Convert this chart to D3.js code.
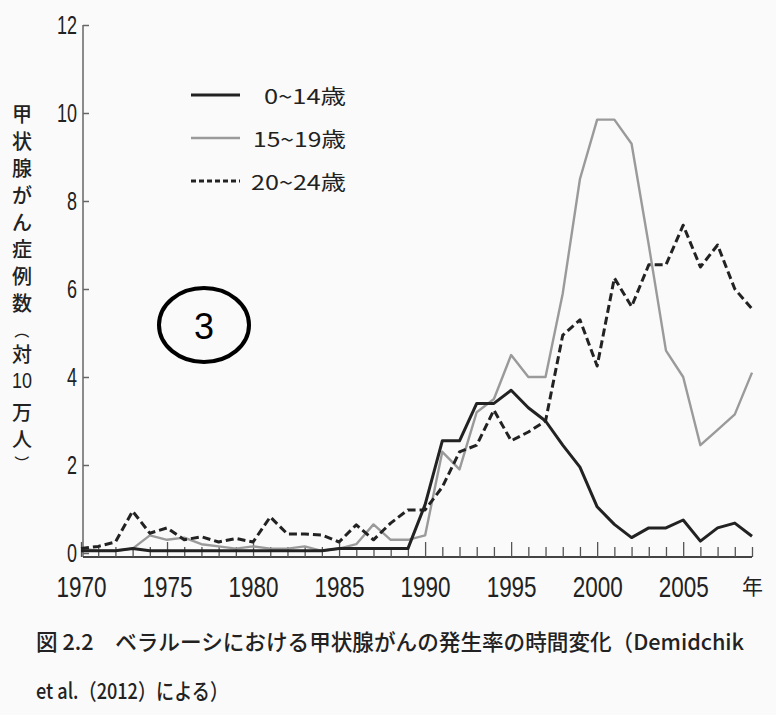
<!DOCTYPE html>
<html lang="ja">
<head>
<meta charset="utf-8">
<title>ベラルーシにおける甲状腺がんの発生率</title>
<script src="https://d3js.org/d3.v7.min.js"></script>
<style>
  body { margin: 0; background: #fafafa; }
  svg { display: block; }
  .num { font-family: "Liberation Sans", Arial, sans-serif; fill: #222; }
  .jp { font-family: "Noto Sans CJK JP", sans-serif; fill: #222; }
</style>
</head>
<body>
<div id="chart"></div>
<script>
// years on the x axis
var years = [1970, 1971, 1972, 1973, 1974, 1975, 1976, 1977, 1978, 1979,
             1980, 1981, 1982, 1983, 1984, 1985, 1986, 1987, 1988, 1989,
             1990, 1991, 1992, 1993, 1994, 1995, 1996, 1997, 1998, 1999,
             2000, 2001, 2002, 2003, 2004, 2005, 2006, 2007, 2008, 2009];

// cases per 100,000
var age0to14 = [0.05, 0.05, 0.05, 0.1, 0.05, 0.05, 0.05, 0.05, 0.05, 0.05,
                0.05, 0.05, 0.05, 0.05, 0.05, 0.1, 0.1, 0.1, 0.1, 0.1,
                1.1, 2.55, 2.55, 3.4, 3.4, 3.7, 3.3, 3.0, 2.45, 1.95,
                1.05, 0.65, 0.35, 0.57, 0.57, 0.75, 0.27, 0.57, 0.68, 0.38];
var age15to19 = [0.1, 0.05, 0.05, 0.1, 0.4, 0.3, 0.35, 0.2, 0.15, 0.1,
                 0.15, 0.1, 0.1, 0.15, 0.05, 0.1, 0.2, 0.65, 0.3, 0.3,
                 0.4, 2.3, 1.9, 3.2, 3.5, 4.5, 4.0, 4.0, 5.9, 8.5,
                 9.85, 9.85, 9.3, 7.0, 4.6, 4.0, 2.45, 2.8, 3.15, 4.1];
var age20to24 = [0.1, 0.15, 0.25, 0.95, 0.45, 0.57, 0.3, 0.37, 0.25, 0.33,
                 0.25, 0.82, 0.43, 0.43, 0.41, 0.25, 0.64, 0.3, 0.68, 0.98,
                 0.98, 1.5, 2.3, 2.45, 3.25, 2.55, 2.75, 3.0, 4.95, 5.3,
                 4.25, 6.25, 5.6, 6.55, 6.55, 7.45, 6.5, 7.0, 6.0, 5.55];

var seriesNames = ["0~14歳", "15~19歳", "20~24歳"];
var yTicks = [0, 2, 4, 6, 8, 10, 12];
var xLabelTicks = [1970, 1975, 1980, 1985, 1990, 1995, 2000, 2005, 2009];
var yTitle = ["甲", "状", "腺", "が", "ん", "症", "例", "数", "（", "対", "10", "万", "人", "）"];
var caption1 = "図 2.2　ベラルーシにおける甲状腺がんの発生率の時間変化（Demidchik";
var caption2 = "et al.（2012）による）";

var width = 776, height = 715;

var svg = d3.select("#chart").append("svg")
  .attr("width", width)
  .attr("height", height);

svg.append("rect").attr("width", width).attr("height", height).attr("fill", "#fafafa");

var x = d3.scaleLinear().domain([1970, 2009]).range([81, 752]);
var y = d3.scaleLinear().domain([0, 12]).range([553, 25]);
var baseY = y(0) + 4;

// y axis
svg.append("line")
  .attr("x1", 83).attr("x2", 83)
  .attr("y1", y(12)).attr("y2", baseY)
  .attr("stroke", "#666").attr("stroke-width", 1.5);

var yAxis = svg.append("g")
  .attr("transform", "translate(83,0)")
  .call(d3.axisLeft(y).tickValues(yTicks).tickSizeInner(-6).tickSizeOuter(0).tickPadding(6));
yAxis.select(".domain").remove();
yAxis.selectAll(".tick line").attr("stroke", "#666").attr("stroke-width", 1.5);
yAxis.selectAll(".tick text")
  .attr("class", "num")
  .style("font-size", "25px")
  .attr("textLength", function(d) { return String(d).length * 10; })
  .attr("lengthAdjust", "spacingAndGlyphs");

// x axis: baseline with a tick every year
svg.append("line")
  .attr("x1", 83).attr("x2", x(2009))
  .attr("y1", baseY).attr("y2", baseY)
  .attr("stroke", "#444").attr("stroke-width", 2);

var xTicks = svg.append("g")
  .attr("transform", "translate(0," + baseY + ")")
  .call(d3.axisTop(x).tickValues(years).tickSize(11).tickSizeOuter(0).tickFormat(""));
xTicks.select(".domain").remove();
xTicks.selectAll(".tick line")
  .attr("stroke", "#555").attr("stroke-width", 1.3)
  .attr("y2", function(d) { return d % 5 === 0 ? -15 : -10; });

var xLabels = svg.append("g")
  .attr("transform", "translate(0," + baseY + ")")
  .call(d3.axisBottom(x).tickValues(xLabelTicks).tickSize(0).tickPadding(19)
    .tickFormat(function(d) { return d === 2009 ? "年" : d; }));
xLabels.select(".domain").remove();
xLabels.selectAll(".tick text")
  .attr("class", function(d) { return d === 2009 ? "jp" : "num"; })
  .style("font-size", function(d) { return d === 2009 ? "21px" : "30px"; })
  .attr("dy", function(d) { return d === 2009 ? "0.85em" : "0.71em"; })
  .each(function(d) {
    if (d !== 2009) {
      d3.select(this).attr("textLength", 50).attr("lengthAdjust", "spacingAndGlyphs");
    }
  });

// vertical y-axis title, one glyph per row; brackets turned for vertical writing
var titleY = 113;
yTitle.forEach(function(ch) {
  var isParen = ch === "（" || ch === "）";
  var adv = ch === "10" ? 31 : isParen ? 24 : 27;
  var cy = titleY + (isParen ? (ch === "（" ? 2 : -2) : 0);
  var t = svg.append("text")
    .attr("class", ch === "10" ? "num" : "jp")
    .attr("text-anchor", "middle")
    .attr("dominant-baseline", "central")
    .style("font-size", ch === "10" ? "22px" : isParen ? "15px" : "20px")
    .style("font-weight", ch === "10" ? null : "500")
    .text(ch);
  if (isParen) {
    t.attr("transform", "translate(22," + cy + ") rotate(90)");
  } else {
    t.attr("x", 22).attr("y", cy);
  }
  if (ch === "10") t.attr("textLength", 20).attr("lengthAdjust", "spacingAndGlyphs");
  titleY += adv;
});

// lines
var line = d3.line()
  .x(function(d) { return x(d[0]); })
  .y(function(d) { return y(d[1]); });

var styles = [
  { data: age0to14, color: "#222", width: 3, dash: null },
  { data: age15to19, color: "#9a9a9a", width: 2.4, dash: null },
  { data: age20to24, color: "#222", width: 3, dash: "8,4" }
];

// draw grey first, then dashed, then solid black on top
[1, 2, 0].forEach(function(i) {
  var s = styles[i];
  svg.append("path")
    .datum(years.map(function(yr, k) { return [yr, s.data[k]]; }))
    .attr("d", line)
    .attr("fill", "none")
    .attr("stroke", s.color)
    .attr("stroke-width", s.width)
    .attr("stroke-linejoin", "round")
    .attr("stroke-dasharray", s.dash);
});

// legend
var legendWidths = [82, 93, 95];
var legend = svg.append("g");
styles.forEach(function(s, i) {
  var ly = 95 + i * 43;
  legend.append("line")
    .attr("x1", 191).attr("x2", 240)
    .attr("y1", ly).attr("y2", ly)
    .attr("stroke", s.color)
    .attr("stroke-width", s.width)
    .attr("stroke-dasharray", s.dash ? "5,3" : null);
  legend.append("text")
    .attr("class", "jp")
    .attr("x", 346 - legendWidths[i])
    .attr("y", ly)
    .attr("dominant-baseline", "central")
    .style("font-size", "20px")
    .attr("textLength", legendWidths[i])
    .attr("lengthAdjust", "spacingAndGlyphs")
    .text(seriesNames[i]);
});

// circled number
svg.append("ellipse")
  .attr("cx", 204).attr("cy", 325)
  .attr("rx", 45).attr("ry", 37)
  .attr("fill", "none")
  .attr("stroke", "#000")
  .attr("stroke-width", 4);
svg.append("text")
  .attr("x", 204).attr("y", 326)
  .attr("text-anchor", "middle")
  .attr("dominant-baseline", "central")
  .style("font-family", "Liberation Sans, Arial, sans-serif")
  .style("font-size", "36px")
  .attr("fill", "#000")
  .text("3");

// caption
svg.append("text")
  .attr("class", "jp")
  .attr("x", 36).attr("y", 640)
  .attr("dominant-baseline", "central")
  .style("font-size", "22px")
  .style("font-weight", "500")
  .attr("textLength", 708)
  .attr("lengthAdjust", "spacingAndGlyphs")
  .text(caption1);
svg.append("text")
  .attr("class", "jp")
  .attr("x", 36).attr("y", 689)
  .attr("dominant-baseline", "central")
  .style("font-size", "22px")
  .style("font-weight", "500")
  .attr("textLength", 192)
  .attr("lengthAdjust", "spacingAndGlyphs")
  .text(caption2);
</script>
</body>
</html>
